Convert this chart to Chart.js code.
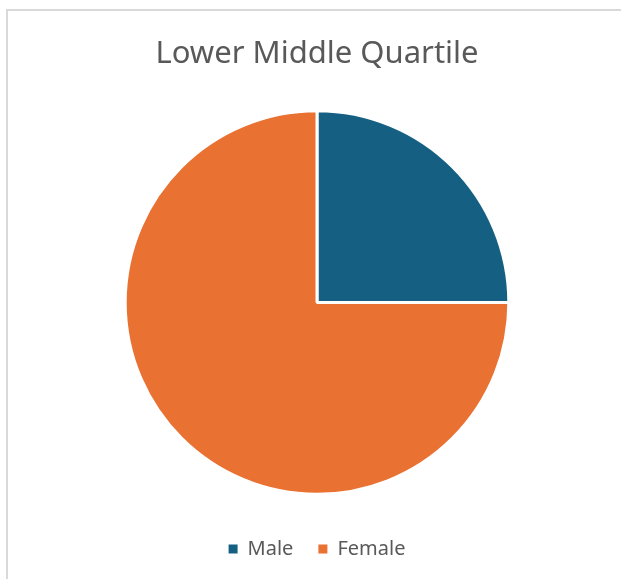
<!DOCTYPE html>
<html>
<head>
<meta charset="utf-8">
<script src="https://cdn.jsdelivr.net/npm/chart.js@4"></script>
<style>
    body { margin: 0; background: #fff; overflow: hidden; }
    #frame {
        position: absolute; left: 6px; top: 9px;
        width: 700px; height: 700px;
        border-top: 2px solid #d9d9d9;
        border-left: 2px solid #d9d9d9;
    }
    #wrap { position: absolute; left: 0; top: 0; width: 621px; height: 579px; }
</style>
</head>
<body>
<div id="frame"></div>
<div id="wrap"><canvas id="pieChart"></canvas></div>
<script>
const chartTitle = 'Lower Middle Quartile';
const categories = ['Male', 'Female'];
const shares = [25, 75];
const sliceColors = ['#156082', '#E97132'];

const ctx = document.getElementById('pieChart').getContext('2d');
const pieChart = new Chart(ctx, {
    type: 'pie',
    data: {
        labels: categories,
        datasets: [{
            data: shares,
            backgroundColor: sliceColors,
            borderColor: '#ffffff',
            borderWidth: 3
        }]
    },
    options: {
        responsive: true,
        maintainAspectRatio: false,
        animation: false,
        layout: {
            padding: { left: 13, right: 0, top: 0, bottom: 10 }
        },
        plugins: {
            title: {
                display: true,
                text: chartTitle,
                color: '#595959',
                font: { family: 'Noto Sans', size: 31, weight: 'normal' },
                padding: { top: 36, bottom: 36 }
            },
            legend: {
                position: 'bottom',
                // empty legend title only used as spacer above the items
                title: {
                    display: true,
                    text: ' ',
                    font: { size: 1 },
                    padding: { top: 0, bottom: 17 }
                },
                labels: {
                    color: '#595959',
                    font: { family: 'Noto Sans', size: 20 },
                    boxWidth: 9,
                    boxHeight: 9,
                    padding: 25,
                    generateLabels: (chart) => {
                        const items = Chart.controllers.pie.overrides.plugins.legend.labels.generateLabels(chart);
                        items.forEach(it => { it.lineWidth = 0; });
                        return items;
                    }
                }
            },
            tooltip: { enabled: false }
        }
    }
});
</script>
</body>
</html>
